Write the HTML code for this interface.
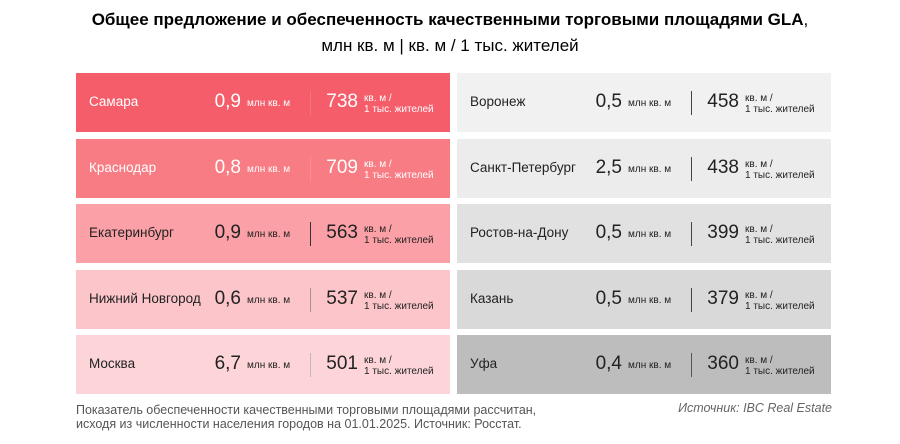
<!DOCTYPE html>
<html><head><meta charset="utf-8"><style>
body{margin:0;width:900px;height:444px;background:#fff;font-family:"Liberation Sans",sans-serif;position:relative;overflow:hidden}
.t{position:absolute;left:0;width:900px;text-align:center;font-size:17px;color:#000}
.c{position:absolute;height:59px;width:374px}
.c span{position:absolute;white-space:nowrap}
.n{font-size:13.5px;top:21px;left:13px}
.v{font-size:19px;top:18px;text-align:right;width:60px}
.u{font-size:10px;top:25px}
.u2{font-size:10px;top:20px;line-height:11px}
.d{position:absolute;top:18px;width:1px;height:24px}
.f{position:absolute;font-size:12.5px;color:#555}
</style></head><body>
<div class="t" style="top:10px;font-weight:bold">Общее предложение и обеспеченность качественными торговыми площадями GLA<span style="font-weight:normal">,</span></div>
<div class="t" style="top:36px">млн кв. м | кв. м / 1 тыс. жителей</div>
<div id="w"></div>
<div class="f" style="left:76px;top:403px;line-height:14px">Показатель обеспеченности качественными торговыми площадями рассчитан,<br>исходя из численности населения городов на 01.01.2025. Источник: Росстат.</div>
<div class="f" style="right:68px;top:401px;font-style:italic;color:#666;font-size:12.5px">Источник: IBC Real Estate</div>
<script>
var L=[["Самара","0,9","738","#f65d6a","#fff","rgba(255,255,255,0.15)"],["Краснодар","0,8","709","#f87c84","#fff","rgba(255,255,255,0.15)"],["Екатеринбург","0,9","563","#fba0a6","#222","#333"],["Нижний Новгород","0,6","537","#fcc5c9","#222","#999"],["Москва","6,7","501","#fdd5d8","#222","#bbb"]];
var R=[["Воронеж","0,5","458","#f1f1f1","#222","#444"],["Санкт-Петербург","2,5","438","#ececec","#222","#444"],["Ростов-на-Дону","0,5","399","#e1e1e1","#222","#444"],["Казань","0,5","379","#d9d9d9","#222","#444"],["Уфа","0,4","360","#bdbdbd","#222","#555"]];
var h="";
function card(d,x,y){
h+='<div class="c" style="left:'+x+'px;top:'+y+'px;background:'+d[3]+';color:'+d[4]+'"><span class="n">'+d[0]+'</span><span class="v" style="left:105px">'+d[1]+'</span><span class="u" style="left:171px">млн кв. м</span><div class="d" style="left:234px;background:'+d[5]+'"></div><span class="v" style="left:222px">'+d[2]+'</span><span class="u2" style="left:288px">кв. м /<br>1 тыс. жителей</span></div>';}
for(var i=0;i<5;i++){var y=73+i*65.5;card(L[i],76,y);card(R[i],457,y);}
document.getElementById("w").innerHTML=h;
</script>
</body></html>
